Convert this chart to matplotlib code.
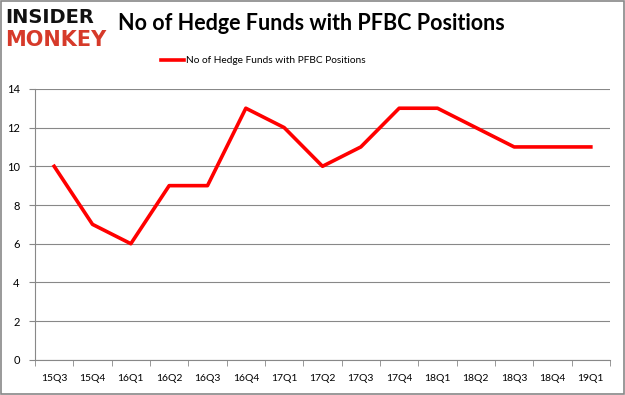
import matplotlib.pyplot as plt
from matplotlib.patches import Rectangle

#Data
quarters = ["15Q3", "15Q4", "16Q1", "16Q2", "16Q3", "16Q4", "17Q1", "17Q2",
            "17Q3", "17Q4", "18Q1", "18Q2", "18Q3", "18Q4", "19Q1"]
hedge_funds = [10, 7, 6, 9, 9, 13, 12, 10, 11, 13, 13, 12, 11, 11, 11]
y_ticks = [0, 2, 4, 6, 8, 10, 12, 14]
series_name = "No of Hedge Funds with PFBC Positions"

plt.rcParams["font.family"] = ["Lato", "DejaVu Sans"]

fig = plt.figure(figsize=(6.25, 3.95), dpi=100)
ax = fig.add_axes([0.056, 0.089, 0.92, 0.686])

x = list(range(len(quarters)))
ax.plot(x, hedge_funds, color="#ff0000", linewidth=2.6, label=series_name)

ax.set_xlim(-0.5, len(quarters) - 0.5)
ax.set_ylim(0, 14)
ax.set_yticks(y_ticks)
ax.set_yticklabels([str(v) for v in y_ticks], fontsize=8)
ax.set_xticks(x)
ax.set_xticklabels(quarters, fontsize=7.5)
ax.set_xticks([i - 0.5 for i in range(len(quarters) + 1)], minor=True)
ax.tick_params(axis="x", which="major", length=0, pad=10)
ax.tick_params(axis="x", which="minor", length=4, color="#888888")
ax.tick_params(axis="y", length=4, color="#888888", pad=7)
ax.grid(axis="y", color="#888888", linewidth=0.8)
ax.set_axisbelow(True)
for side in ["top", "right"]:
    ax.spines[side].set_visible(False)
ax.spines["left"].set_color("#888888")
ax.spines["bottom"].set_color("#888888")

ax.legend(loc="upper center", bbox_to_anchor=(0.397, 1.155), frameon=False,
          fontsize=7.3, handlelength=2.2, handletextpad=0.2)

fig.text(0.189, 0.94, series_name, fontsize=15.5, fontweight="bold", va="center")
fig.text(0.008, 0.955, "INSIDER", fontsize=14, fontweight="bold", color="#111111",
         va="center", family="DejaVu Sans")
fig.text(0.008, 0.9, "MONKEY", fontsize=15, fontweight="bold", color="#d63a2a",
         va="center", family="DejaVu Sans")

fig.patches.append(Rectangle((0.001, 0.002), 0.997, 0.995, transform=fig.transFigure,
                             fill=False, edgecolor="#888888", linewidth=1.2))

plt.savefig("out.png", dpi=100)
